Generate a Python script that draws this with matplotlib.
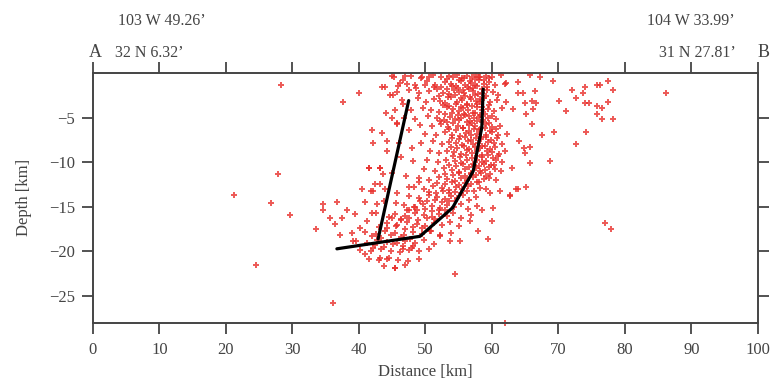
import matplotlib
matplotlib.use("Agg")
import matplotlib.pyplot as plt

plt.rcParams['font.family'] = ['Liberation Serif', 'DejaVu Serif']

# ---- hypocentre data (distance km, depth km) ----
upper_x = [47.0,49.5,51.2,52.4,53.6,54.8,55.5,56.3,57.0,57.6,58.3,59.1,60.0,61.4,
           46.2,48.4,50.3,51.5,52.9,53.8,54.6,55.4,56.0,56.8,57.4,58.0,58.8,59.6,60.5,62.1,
           45.8,47.6,49.0,50.6,51.8,52.7,53.5,54.3,55.1,55.8,56.6,57.2,57.9,58.6,59.3,60.2,61.0,
           46.5,48.9,50.1,51.3,52.2,53.0,53.9,54.7,55.5,56.2,56.9,57.6,58.2,58.9,59.8,60.8,
           47.9,49.6,50.9,52.0,53.3,54.2,55.0,55.7,56.4,57.1,57.8,58.5,59.4,60.4,61.5,
           46.8,48.5,50.4,51.7,52.8,53.7,54.5,55.3,56.0,56.7,57.3,58.0,58.7,59.5,60.6,
           49.2,51.0,52.4,53.4,54.9,55.6,56.5,57.5,58.3,59.1,60.1,61.2]
upper_depth = [-0.3,-0.4,-0.2,-0.5,-0.3,-0.2,-0.6,-0.3,-0.5,-0.2,-0.4,-0.3,-0.5,-0.2,
               -1.1,-1.3,-0.9,-1.4,-1.0,-1.2,-1.5,-0.9,-1.3,-1.1,-1.4,-0.8,-1.2,-1.0,-1.3,-1.1,
               -2.1,-1.9,-2.3,-2.0,-1.8,-2.2,-2.4,-1.9,-2.1,-2.3,-1.8,-2.0,-2.4,-2.2,-1.9,-2.1,-2.5,
               -3.0,-2.8,-3.3,-2.9,-3.1,-3.4,-2.7,-3.2,-3.0,-3.5,-2.9,-3.1,-3.3,-2.8,-3.2,-3.0,
               -4.1,-3.9,-4.2,-4.4,-3.8,-4.0,-4.3,-3.9,-4.1,-4.5,-3.8,-4.2,-4.0,-4.3,-3.9,
               -5.0,-5.2,-4.8,-5.1,-5.3,-4.9,-5.2,-5.0,-4.7,-5.4,-5.1,-4.9,-5.3,-5.0,-5.2,
               -5.8,-6.0,-5.7,-6.1,-5.9,-6.2,-5.8,-6.0,-6.3,-5.7,-6.1,-5.9]

middle_x = [50.0,51.6,52.9,54.0,55.2,56.1,56.9,57.7,58.4,59.2,60.0,61.0,62.3,
            49.4,51.2,52.5,53.6,54.6,55.5,56.4,57.2,57.9,58.6,59.4,60.3,61.5,
            50.7,52.1,53.3,54.3,55.3,56.2,57.0,57.8,58.5,59.3,60.1,61.1,62.0,
            50.2,51.9,53.1,54.4,55.4,56.3,57.1,57.8,58.5,59.2,59.9,60.6,61.6,
            49.8,51.4,52.8,54.0,55.1,56.0,56.9,57.6,58.3,59.0,59.7,60.5,61.4,
            49.0,50.6,52.0,53.3,54.4,55.4,56.3,57.2,58.0,58.8,59.6,60.6]
middle_depth = [-6.8,-7.0,-6.6,-6.9,-7.1,-6.7,-7.0,-6.8,-7.2,-6.9,-6.6,-7.0,-6.8,
                -7.8,-7.6,-8.0,-7.7,-7.9,-8.1,-7.6,-8.0,-7.8,-8.2,-7.7,-7.9,-8.0,
                -8.8,-9.0,-8.7,-8.9,-9.1,-8.6,-9.0,-8.8,-9.2,-8.7,-8.9,-9.1,-8.8,
                -9.8,-10.0,-9.7,-9.9,-10.1,-9.8,-10.2,-9.7,-10.0,-9.9,-10.3,-9.8,-10.0,
                -10.8,-11.0,-10.7,-10.9,-11.1,-10.8,-11.2,-10.7,-11.0,-10.9,-11.3,-10.8,-11.0,
                -11.8,-12.0,-11.7,-11.9,-12.1,-11.8,-12.0,-11.7,-12.2,-11.9,-11.8,-12.0]

core_x = [53.3,54.1,55.0,55.8,56.7,57.4,58.1,58.9,59.6,
          52.3,53.2,54.0,54.9,55.6,56.4,57.1,57.8,58.5,59.3,
          52.0,53.4,54.4,55.3,56.0,56.7,57.5,58.3,59.1,
          52.6,53.6,54.6,55.4,56.2,57.0,57.7,58.6,59.6,
          53.0,54.0,54.9,55.8,56.5,57.4,58.2,59.0,60.0,
          52.2,53.2,54.2,55.1,56.2,57.0,57.8,58.6,59.6,
          53.6,54.6,55.6,56.5,57.3,58.1,59.0,59.8,60.6,
          54.0,55.0,55.9,56.8,57.6,58.4,59.1,59.9,60.8,
          53.8,54.8,55.8,56.6,57.4,58.2,59.0,59.7,60.5,
          54.2,55.2,56.1,57.0,57.8,58.6,59.4,60.2,61.0,
          53.5,54.6,55.6,56.5,57.3,58.0,58.8,59.6,60.3,
          53.0,54.1,55.1,56.0,56.8,57.6,58.4,59.2,
          51.8,53.0,54.0,55.0,56.0,56.9,57.8,
          50.5,51.6,52.6,53.6,54.5,55.4,56.2,
          49.2,50.3,51.4,52.5,53.5,54.5,
          47.5,48.8,49.9,51.0,52.0,53.0,
          45.0,46.3,47.6,48.9,50.2,51.5,
          43.0,44.3,45.6,46.9,48.2,49.5,
          42.0,43.4,44.8,46.3,47.7,
          42.4,43.8,45.2,46.6,48.0,
          45.3,46.6,47.9,49.3,50.6,
          45.9,47.3,48.6,49.9,51.3]
core_depth = [-0.7,-0.5,-0.8,-0.6,-0.9,-0.7,-0.5,-0.8,-0.6,
              -1.6,-1.8,-1.5,-1.7,-1.9,-1.6,-1.7,-1.5,-1.8,-1.6,
              -2.6,-2.7,-2.5,-2.8,-2.6,-2.7,-2.5,-2.9,-2.6,
              -3.6,-3.7,-3.5,-3.8,-3.6,-3.7,-3.5,-3.8,-3.6,
              -4.6,-4.5,-4.7,-4.6,-4.8,-4.5,-4.7,-4.6,-4.8,
              -5.4,-5.5,-5.6,-5.3,-5.5,-5.6,-5.4,-5.5,-5.6,
              -6.3,-6.4,-6.2,-6.5,-6.3,-6.4,-6.2,-6.5,-6.3,
              -7.3,-7.4,-7.2,-7.5,-7.3,-7.4,-7.2,-7.5,-7.3,
              -8.3,-8.4,-8.2,-8.5,-8.3,-8.4,-8.2,-8.5,-8.3,
              -9.3,-9.4,-9.2,-9.5,-9.3,-9.4,-9.2,-9.5,-9.3,
              -10.3,-10.4,-10.2,-10.5,-10.3,-10.4,-10.2,-10.5,-10.3,
              -11.3,-11.4,-11.2,-11.5,-11.3,-11.4,-11.2,-11.5,
              -12.3,-12.4,-12.2,-12.5,-12.3,-12.4,-12.2,
              -13.3,-13.4,-13.2,-13.5,-13.3,-13.4,-13.2,
              -14.3,-14.4,-14.2,-14.5,-14.3,-14.4,
              -15.3,-15.4,-15.2,-15.5,-15.3,-15.4,
              -16.3,-16.4,-16.2,-16.5,-16.3,-16.4,
              -17.3,-17.4,-17.2,-17.5,-17.3,-17.4,
              -18.3,-18.5,-18.2,-18.4,-18.6,
              -19.3,-19.5,-19.2,-19.4,-19.6,
              -0.4,-0.8,-0.3,-0.6,-0.5,
              -1.5,-1.2,-1.7,-1.4,-1.6]

lower_x = [48.3,49.8,51.2,52.5,53.6,54.6,55.5,56.4,57.3,58.2,59.2,
           47.6,49.1,50.5,51.8,52.9,53.9,54.8,55.7,56.6,57.6,
           46.8,48.3,49.7,51.0,52.2,53.3,54.3,55.3,56.4,57.8,
           45.5,47.0,48.5,49.8,51.0,52.1,53.2,54.2,55.4,56.8,
           44.2,45.8,47.3,48.7,50.0,51.3,52.5,53.7,55.0]
lower_depth = [-12.8,-13.0,-12.7,-12.9,-13.1,-12.8,-13.0,-12.7,-13.2,-12.9,-13.0,
               -13.8,-14.0,-13.7,-13.9,-14.1,-13.8,-14.0,-13.7,-14.2,-13.9,
               -14.8,-15.0,-14.7,-14.9,-15.1,-14.8,-15.0,-14.7,-15.2,-14.9,
               -15.8,-16.0,-15.7,-15.9,-16.1,-15.8,-16.0,-15.7,-16.2,-15.9,
               -16.8,-17.0,-16.7,-16.9,-17.1,-16.8,-17.0,-16.7,-17.2]

base_x = [41.0,42.6,44.0,45.4,46.8,48.1,49.5,50.8,52.2,53.8,
          39.5,41.2,42.8,44.3,45.7,47.0,48.4,49.8,51.3,
          40.2,41.8,43.4,44.8,46.2,47.6,49.0,50.5,
          41.5,43.0,44.5,45.9,47.4,49.0,
          43.8,45.4,47.0,
          59.4,60.0,53.7,55.2,52.2,50.7,48.1,46.6,57.9,56.7,58.5,60.2,59.7,61.2,62.7,63.7]
base_depth = [-17.8,-18.0,-17.7,-17.9,-18.1,-17.8,-18.0,-17.7,-18.2,-17.9,
              -18.8,-19.0,-18.7,-18.9,-19.1,-18.8,-19.0,-18.7,-19.2,
              -19.8,-20.0,-19.7,-19.9,-20.1,-19.8,-20.0,-19.7,
              -20.8,-21.0,-20.7,-20.9,-21.1,-20.8,
              -21.6,-21.9,-21.5,
              -18.6,-16.6,-18.8,-18.8,-18.3,-17.7,-19.4,-19.7,-17.7,-16.6,-15.4,-15.1,-13.5,-13.2,-13.8,-13.0]

west_x = [43.5,45.2,46.7,44.1,45.8,47.5,42.0,43.5,44.2,46.0,48.0,42.1,44.2,46.3,48.2,
          41.5,43.2,45.0,47.1,49.0,42.4,44.0,45.8,47.6,41.8,43.8,45.6,47.3,42.6,44.6,
          46.4,48.4,44.7,44.0,45.0,45.4,45.0,45.7]
west_depth = [-1.6,-2.5,-3.5,-4.5,-5.6,-6.4,-6.4,-6.7,-7.6,-7.8,-8.4,-7.8,-8.7,-9.4,-9.9,
              -10.7,-10.7,-11.2,-11.6,-12.2,-12.4,-13.0,-13.5,-12.8,-13.2,-14.3,-14.6,-15.3,-15.7,-16.1,
              -16.5,-15.0,-2.5,-1.6,-0.3,-4.2,-5.0,-5.7]

scatter_w_x = [34.6,36.7,34.6,33.5,35.6,36.4,37.4,38.2,40.5,40.9,37.1,38.9,40.2,41.2,39.4,
               42.0,42.7,42.1,43.2,43.6,40.9,43.2,44.2,45.4,42.1,39.1,37.6,40.0,41.5,43.2]
scatter_w_depth = [-14.7,-14.5,-15.4,-17.5,-16.3,-16.9,-16.2,-15.4,-13.0,-14.5,-18.1,-17.9,-17.4,-16.6,-15.8,
                   -15.7,-14.7,-13.2,-12.4,-11.3,-20.3,-20.7,-20.8,-21.8,-19.6,-18.8,-3.3,-2.2,-10.7,-10.7]

east_x = [77.5,78.2,75.8,76.2,74.0,73.7,72.0,72.6,77.5,74.0,74.6,75.8,76.5,75.8,76.5,78.2,
          70.1,71.1,69.2,74.1,72.6,69.3,67.6,68.7,66.1,65.7,65.2,63.9,62.8,64.1,64.8,65.7,
          65.0,63.0,66.2,65.2,65.0,66.0,66.7,63.9,64.7,66.5,63.9,62.0,65.7,67.2,62.2,63.2]
east_depth = [-0.9,-1.9,-1.4,-1.4,-1.6,-2.2,-1.9,-2.8,-3.3,-3.4,-3.4,-3.7,-3.9,-4.6,-5.2,-5.2,
              -3.1,-4.3,-0.9,-6.6,-8.0,-6.6,-6.9,-9.9,-5.7,-10.1,-12.8,-13.0,-13.7,-7.6,-8.4,-8.3,
              -9.0,-10.7,-4.0,-4.6,-3.4,-3.1,-3.4,-2.3,-2.3,-2.0,-1.0,-1.2,-0.2,-0.5,-3.3,-4.0]

outlier_x = [28.3,27.8,21.2,26.8,24.5,29.6,36.1,62.0,86.2,77.0,78.0,54.4]
outlier_depth = [-1.3,-11.3,-13.7,-14.6,-21.5,-15.9,-25.8,-28.0,-2.2,-16.8,-17.5,-22.5]

# ---- interpreted faults ----
fault_west_x = [47.5, 42.9]
fault_west_depth = [-3.1, -18.6]
fault_main_x = [36.7, 49.2, 54.1, 57.2, 58.5, 58.7]
fault_main_depth = [-19.7, -18.3, -15.1, -11.0, -6.1, -1.8]

x_ticks = [0, 10, 20, 30, 40, 50, 60, 70, 80, 90, 100]
y_ticks = [-25, -20, -15, -10, -5]

fig = plt.figure(figsize=(7.74, 3.90), dpi=100)
ax = fig.add_axes([0.120, 0.172, 0.859, 0.641])

groups = [(upper_x, upper_depth), (middle_x, middle_depth), (core_x, core_depth),
          (lower_x, lower_depth), (base_x, base_depth), (west_x, west_depth),
          (scatter_w_x, scatter_w_depth), (east_x, east_depth), (outlier_x, outlier_depth)]
for gx, gy in groups:
    ax.plot(gx, gy, linestyle='none', marker='+', ms=5, mew=1.4,
            color='#e8302c', alpha=0.8, clip_on=False)

ax.plot(fault_west_x, fault_west_depth, color='black', lw=2.3, solid_capstyle='round')
ax.plot(fault_main_x, fault_main_depth, color='black', lw=2.3, solid_capstyle='round',
        solid_joinstyle='round')

ax.set_xlim(0, 100)
ax.set_ylim(-28, 0)
ax.set_xticks(x_ticks)
ax.set_yticks(y_ticks)
ax.set_yticklabels(['\u221225', '\u221220', '\u221215', '\u221210', '\u22125'])

ax.tick_params(axis='both', direction='out', length=8, width=1.3, colors='#444444',
               labelsize=12, top=True, right=True, labeltop=False, labelright=False)
ax.tick_params(axis='x', pad=6)
ax.tick_params(axis='y', pad=5)
for s in ax.spines.values():
    s.set_linewidth(1.4)
    s.set_color('#444444')

ax.set_xlabel('Distance [km]', fontsize=12, color='#444444', labelpad=4)
ax.set_ylabel('Depth [km]', fontsize=12, color='#444444', labelpad=12)

fig.text(0.123, 0.855, 'A', fontsize=13, color='#444444', ha='center')
fig.text(0.986, 0.855, 'B', fontsize=13, color='#444444', ha='center')
fig.text(0.152, 0.935, '103 W 49.26\u2019', fontsize=11.5, color='#444444', ha='left')
fig.text(0.148, 0.855, '32 N 6.32\u2019', fontsize=11.5, color='#444444', ha='left')
fig.text(0.949, 0.935, '104 W 33.99\u2019', fontsize=11.5, color='#444444', ha='right')
fig.text(0.951, 0.855, '31 N 27.81\u2019', fontsize=11.5, color='#444444', ha='right')

fig.savefig('out.png', dpi=100, facecolor='white')
